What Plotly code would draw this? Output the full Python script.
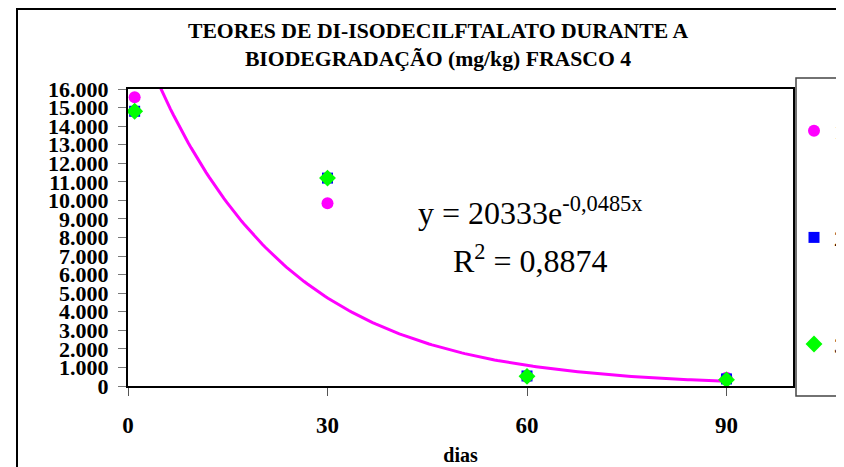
import plotly.graph_objects as go
import numpy as np

# data
dias = [1, 30, 60, 90]
serie1 = [15550, 9850, 500, 450]
serie2 = [14800, 11200, 540, 380]
serie3 = [14800, 11200, 520, 330]
series_names = ["1", "2", "3"]

# trendline coefficients shown on chart
coef_a = 20333
coef_b = -0.0485
r2_text = "0,8874"

title_lines = ["TEORES DE DI-ISODECILFTALATO DURANTE A", "BIODEGRADAÇÃO (mg/kg) FRASCO 4"]
x_ticks = [0, 30, 60, 90]
y_ticks = list(range(0, 16001, 1000))

SERIF = "Liberation Serif"

W, H = 844, 467
OFF = 8  # page offset of the figure (body margin)
# plot area in page pixels
PL, PR, PT, PB = 128, 793, 89, 386
L, R, T, B = PL - OFF, PR - OFF, PT - OFF, PB - OFF


def px_x(px):  # page px -> paper
    return (px - OFF - L) / (R - L)


def px_y(py):
    return (B - (py - OFF)) / (B - T)


fig = go.Figure()

xt = np.linspace(min(dias), max(dias), 200)
yt = coef_a * np.exp(coef_b * xt)
fig.add_trace(go.Scatter(x=xt, y=yt, mode="lines", line=dict(color="#FF00FF", width=3),
                         showlegend=False, hoverinfo="skip"))

fig.add_trace(go.Scatter(x=dias, y=serie1, mode="markers", name=series_names[0], legendgroup="a",
                         marker=dict(symbol="circle", size=12, color="#FF00FF"), cliponaxis=False))
fig.add_trace(go.Scatter(x=dias, y=serie2, mode="markers", name=series_names[1], legendgroup="b",
                         marker=dict(symbol="square", size=11, color="#0000FF"), cliponaxis=False))
fig.add_trace(go.Scatter(x=dias, y=serie3, mode="markers", name=series_names[2], legendgroup="c",
                         marker=dict(symbol="diamond", size=13, color="#00FF00"), cliponaxis=False))

bold = dict(family=SERIF, color="black", weight="bold")

fig.update_layout(
    width=W, height=H,
    margin=dict(l=L, r=W - R, t=T, b=H - B, pad=0, autoexpand=False),
    paper_bgcolor="white", plot_bgcolor="white",
    separators=",.",
    font=dict(family=SERIF, color="black"),
    title=dict(text="<br>".join(title_lines), x=(438 - OFF) / W, xanchor="center", xref="container",
               y=1 - 30 / H, yanchor="top", yref="container",
               font=dict(size=21.7, **bold)),
    xaxis=dict(range=[0, 100], tickvals=x_ticks, ticks="outside", ticklen=8, tickcolor="#555",
               ticklabelstandoff=9,
               showline=True, linecolor="black", linewidth=2, mirror=True, showgrid=False, zeroline=False,
               tickfont=dict(size=23, **bold),
               title=dict(text="dias", font=dict(size=20, **bold), standoff=11)),
    yaxis=dict(range=[0, 16000], tickvals=y_ticks, tickformat=",d", ticks="outside", ticklen=8, tickcolor="#777",
               ticklabelstandoff=5,
               showline=True, linecolor="black", linewidth=2, mirror=True, showgrid=False, zeroline=False,
               tickfont=dict(size=22, **bold)),
    legend=dict(xref="container", yref="container", x=786 / W, y=1 - 102 / H, xanchor="left", yanchor="top",
                tracegroupgap=75, bgcolor="rgba(0,0,0,0)", borderwidth=0, maxheight=420,
                traceorder="grouped",
                font=dict(family=SERIF, size=22, color="black"), itemwidth=30),
    showlegend=True,
)

# outer chart border
fig.add_shape(type="rect", xref="paper", yref="paper", x0=px_x(17), x1=px_x(870), y0=px_y(490), y1=px_y(9),
              line=dict(color="black", width=2), fillcolor="rgba(0,0,0,0)", layer="below")
# legend border
fig.add_shape(type="rect", xref="paper", yref="paper", x0=px_x(796), x1=px_x(870), y0=px_y(396), y1=px_y(78),
              line=dict(color="#444", width=1.5), fillcolor="white", layer="below")

fig.add_annotation(xref="paper", yref="paper", x=px_x(530), y=px_y(211), showarrow=False,
                   text="y = %de<sup>%s</sup>" % (coef_a, ("%.4f" % coef_b).replace(".", ",") + "x"),
                   font=dict(family=SERIF, size=32, color="black"))
fig.add_annotation(xref="paper", yref="paper", x=px_x(530), y=px_y(259), showarrow=False,
                   text="R<sup>2</sup> = " + r2_text,
                   font=dict(family=SERIF, size=32, color="black"))

fig.write_html("out.html")
